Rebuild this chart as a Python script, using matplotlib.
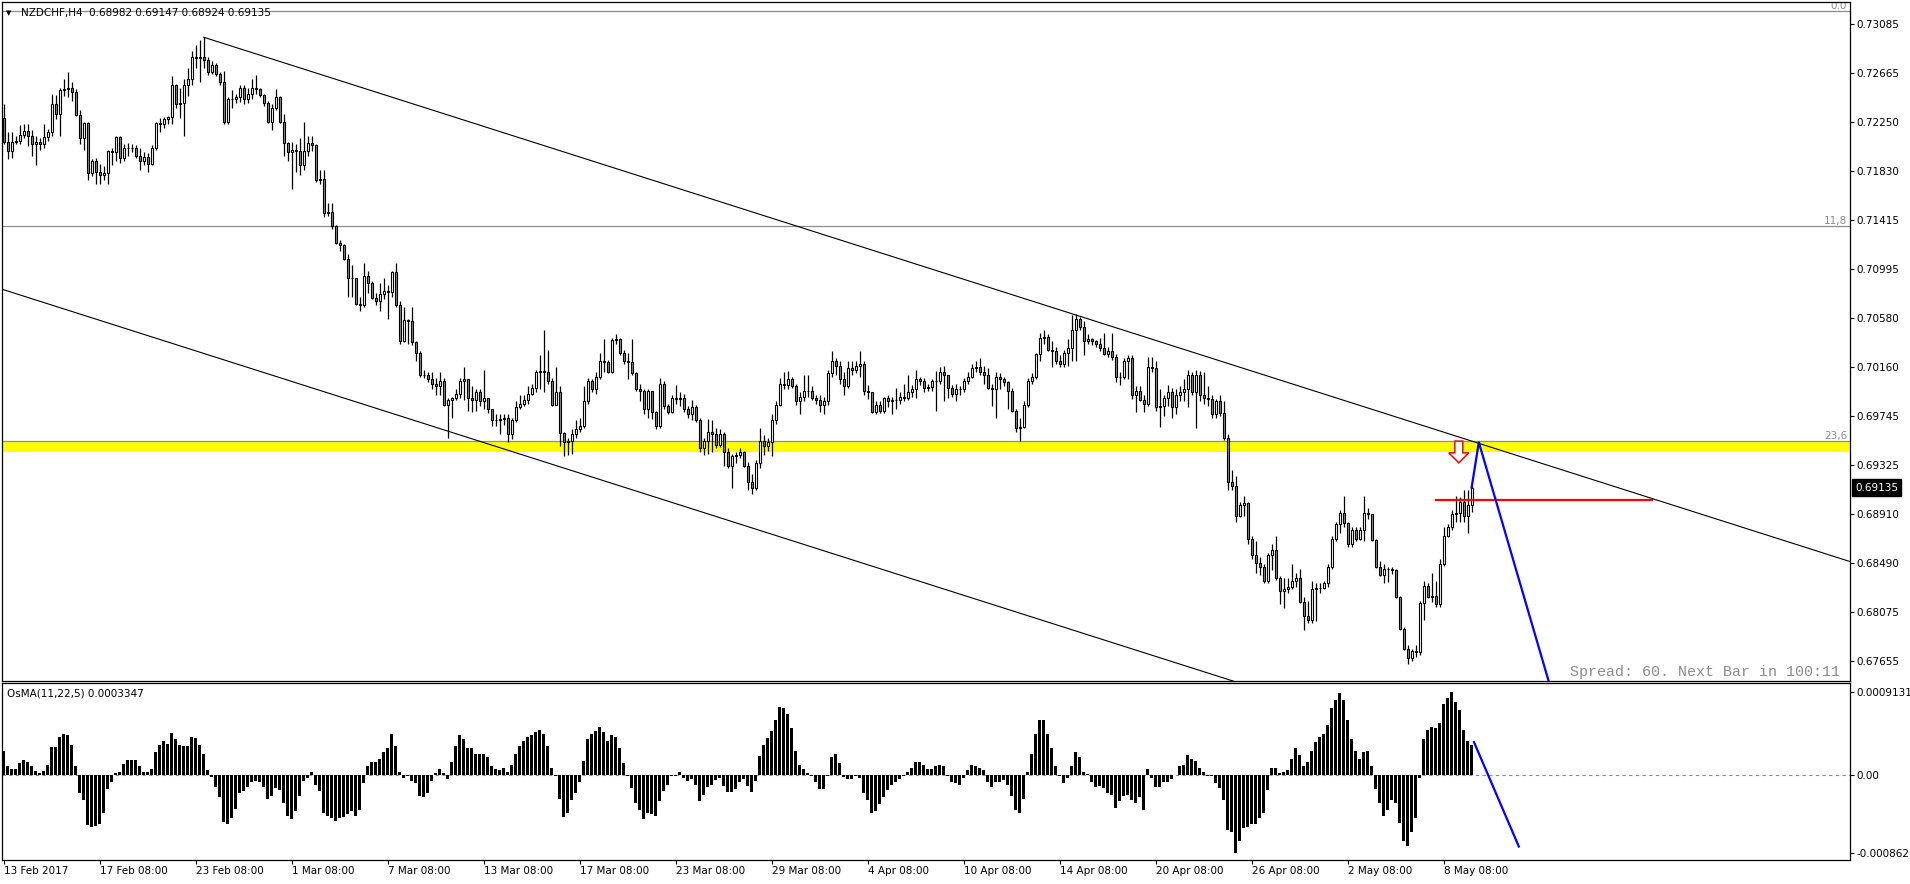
import matplotlib
matplotlib.use("Agg")
import matplotlib.pyplot as plt
from matplotlib.patches import Rectangle, Polygon
import numpy as np

# ---- data (NZDCHF H4) ----
symbol = "NZDCHF,H4"
first_open = 0.7228

close = [
    0.7208, 0.7200, 0.7208, 0.7209, 0.7214, 0.7217, 0.7213, 0.7206, 0.7208, 0.7206, 0.7212, 0.7216,
    0.7240, 0.7232, 0.7252, 0.7253, 0.7254, 0.7250, 0.7231, 0.7211, 0.7224, 0.7181, 0.7192, 0.7182,
    0.7180, 0.7181, 0.7200, 0.7199, 0.7212, 0.7194, 0.7203, 0.7203, 0.7203, 0.7196, 0.7192, 0.7195,
    0.7189, 0.7203, 0.7224, 0.7223, 0.7227, 0.7229, 0.7256, 0.7240, 0.7241, 0.7256, 0.7261, 0.7280,
    0.7279, 0.7280, 0.7278, 0.7267, 0.7273, 0.7266, 0.7259, 0.7225, 0.7244, 0.7244, 0.7246, 0.7254,
    0.7244, 0.7249, 0.7254, 0.7253, 0.7248, 0.7241, 0.7225, 0.7237, 0.7246, 0.7225, 0.7207, 0.7199,
    0.7201, 0.7200, 0.7188, 0.7200, 0.7207, 0.7205, 0.7175, 0.7176, 0.7147, 0.7148, 0.7136, 0.7122,
    0.7120, 0.7108, 0.7092, 0.7092, 0.7070, 0.7069, 0.7094, 0.7088, 0.7075, 0.7072, 0.7078, 0.7081,
    0.7080, 0.7097, 0.7069, 0.7038, 0.7056, 0.7055, 0.7037, 0.7028, 0.7009, 0.7009, 0.7006, 0.7002,
    0.7000, 0.7004, 0.6984, 0.6988, 0.6990, 0.6993, 0.7004, 0.7006, 0.6990, 0.6988, 0.6995, 0.6987,
    0.6990, 0.6980, 0.6971, 0.6971, 0.6972, 0.6973, 0.6959, 0.6971, 0.6982, 0.6985, 0.6988, 0.6993,
    0.6998, 0.7012, 0.7013, 0.7012, 0.7004, 0.6984, 0.6995, 0.6960, 0.6952, 0.6953, 0.6959, 0.6963,
    0.6966, 0.6987, 0.7004, 0.6997, 0.7008, 0.7021, 0.7020, 0.7012, 0.7039, 0.7040, 0.7028, 0.7021,
    0.7020, 0.7011, 0.6997, 0.6996, 0.6980, 0.6996, 0.6978, 0.6966, 0.7002, 0.6983, 0.6978, 0.6990,
    0.6989, 0.6990, 0.6980, 0.6976, 0.6982, 0.6971, 0.6947, 0.6953, 0.6961, 0.6959, 0.6950, 0.6959,
    0.6944, 0.6932, 0.6940, 0.6941, 0.6944, 0.6932, 0.6918, 0.6913, 0.6934, 0.6953, 0.6949, 0.6952,
    0.6971, 0.6984, 0.7002, 0.7001, 0.7006, 0.7000, 0.6987, 0.6991, 0.6996, 0.6996, 0.6990, 0.6988,
    0.6984, 0.6987, 0.7011, 0.7021, 0.7017, 0.7006, 0.7000, 0.7015, 0.7014, 0.7017, 0.7019, 0.6996,
    0.6995, 0.6978, 0.6984, 0.6979, 0.6990, 0.6987, 0.6988, 0.6988, 0.6991, 0.6990, 0.6995, 0.6997,
    0.7006, 0.7004, 0.6998, 0.6999, 0.7004, 0.7004, 0.7012, 0.7009, 0.6998, 0.6993, 0.6997, 0.6997,
    0.7004, 0.7008, 0.7015, 0.7016, 0.7012, 0.7009, 0.6998, 0.6997, 0.7008, 0.7006, 0.7003, 0.6996,
    0.6979, 0.6964, 0.6965, 0.6984, 0.7004, 0.7008, 0.7027, 0.7041, 0.7042, 0.7031, 0.7030, 0.7021,
    0.7019, 0.7028, 0.7032, 0.7048, 0.7057, 0.7050, 0.7038, 0.7040, 0.7038, 0.7036, 0.7032, 0.7027,
    0.7030, 0.7025, 0.7008, 0.7008, 0.7021, 0.7024, 0.6992, 0.6996, 0.6988, 0.6985, 0.7016, 0.7015,
    0.6982, 0.6983, 0.6990, 0.6995, 0.6982, 0.6992, 0.6995, 0.6997, 0.7009, 0.6995, 0.7009, 0.6992,
    0.6990, 0.6989, 0.6976, 0.6987, 0.6977, 0.6956, 0.6918, 0.6915, 0.6889, 0.6899, 0.6900, 0.6870,
    0.6856, 0.6849, 0.6846, 0.6834, 0.6856, 0.6860, 0.6836, 0.6825, 0.6827, 0.6829, 0.6834, 0.6836,
    0.6816, 0.6804, 0.6801, 0.6827, 0.6828, 0.6828, 0.6832, 0.6846, 0.6870, 0.6882, 0.6892, 0.6883,
    0.6865, 0.6877, 0.6870, 0.6877, 0.6892, 0.6891, 0.6869, 0.6846, 0.6839, 0.6844, 0.6844, 0.6843,
    0.6820, 0.6793, 0.6776, 0.6768, 0.6774, 0.6773, 0.6815, 0.6830, 0.6820, 0.6821, 0.6814, 0.6848,
    0.6872, 0.6880, 0.6891, 0.6892, 0.6901, 0.6889, 0.68982, 0.69135,
]

high = [
    0.7240, 0.7216, 0.7216, 0.7213, 0.7222, 0.7223, 0.7223, 0.7218, 0.7213, 0.7211, 0.7223, 0.7219,
    0.7249, 0.7248, 0.7254, 0.7261, 0.7267, 0.7259, 0.7253, 0.7235, 0.7225, 0.7225, 0.7193, 0.7194,
    0.7189, 0.7187, 0.7201, 0.7203, 0.7213, 0.7213, 0.7206, 0.7207, 0.7206, 0.7205, 0.7203, 0.7199,
    0.7198, 0.7205, 0.7225, 0.7228, 0.7229, 0.7230, 0.7264, 0.7257, 0.7254, 0.7261, 0.7271, 0.7285,
    0.7290, 0.7295, 0.7297, 0.7280, 0.7277, 0.7275, 0.7267, 0.7268, 0.7246, 0.7252, 0.7249, 0.7256,
    0.7256, 0.7254, 0.7261, 0.7265, 0.7254, 0.7249, 0.7243, 0.7240, 0.7253, 0.7247, 0.7232, 0.7208,
    0.7208, 0.7206, 0.7211, 0.7225, 0.7213, 0.7213, 0.7206, 0.7184, 0.7184, 0.7156, 0.7156, 0.7137,
    0.7124, 0.7121, 0.7112, 0.7103, 0.7081, 0.7076, 0.7105, 0.7098, 0.7089, 0.7079, 0.7088, 0.7092,
    0.7086, 0.7098, 0.7105, 0.7072, 0.7067, 0.7057, 0.7067, 0.7038, 0.7030, 0.7014, 0.7012, 0.7012,
    0.7007, 0.7012, 0.7007, 0.6990, 0.6991, 0.6997, 0.7007, 0.7016, 0.7001, 0.7000, 0.6997, 0.6997,
    0.7014, 0.6990, 0.6980, 0.6976, 0.6976, 0.6976, 0.6976, 0.6973, 0.6987, 0.6992, 0.6992, 0.7000,
    0.7002, 0.7014, 0.7026, 0.7048, 0.7031, 0.7007, 0.7016, 0.7000, 0.6961, 0.6956, 0.6963, 0.6971,
    0.6973, 0.7000, 0.7007, 0.7006, 0.7012, 0.7028, 0.7040, 0.7022, 0.7041, 0.7044, 0.7041, 0.7031,
    0.7028, 0.7040, 0.7012, 0.7002, 0.6997, 0.6997, 0.6992, 0.6979, 0.7007, 0.7004, 0.6985, 0.6992,
    0.7001, 0.6995, 0.6993, 0.6983, 0.6988, 0.6984, 0.6973, 0.6956, 0.6972, 0.6971, 0.6964, 0.6963,
    0.6961, 0.6947, 0.6942, 0.6944, 0.6947, 0.6945, 0.6935, 0.6925, 0.6937, 0.6964, 0.6958, 0.6956,
    0.6976, 0.6987, 0.7007, 0.7012, 0.7013, 0.7008, 0.7002, 0.6995, 0.7009, 0.7009, 0.7000, 0.6992,
    0.6992, 0.6991, 0.7014, 0.7030, 0.7024, 0.7021, 0.7012, 0.7021, 0.7021, 0.7021, 0.7030, 0.7021,
    0.7001, 0.6995, 0.6987, 0.6987, 0.6991, 0.6992, 0.6991, 0.6998, 0.6995, 0.7002, 0.7009, 0.7001,
    0.7014, 0.7008, 0.7007, 0.7002, 0.7006, 0.7013, 0.7016, 0.7017, 0.7009, 0.7001, 0.7002, 0.7000,
    0.7007, 0.7012, 0.7019, 0.7021, 0.7024, 0.7017, 0.7015, 0.7002, 0.7012, 0.7011, 0.7008, 0.7004,
    0.6998, 0.6980, 0.6973, 0.6987, 0.7007, 0.7011, 0.7028, 0.7045, 0.7048, 0.7044, 0.7038, 0.7033,
    0.7026, 0.7031, 0.7040, 0.7060, 0.7061, 0.7059, 0.7055, 0.7044, 0.7041, 0.7039, 0.7041, 0.7045,
    0.7033, 0.7045, 0.7027, 0.7012, 0.7024, 0.7026, 0.7026, 0.7000, 0.7000, 0.6992, 0.7025, 0.7025,
    0.7021, 0.6997, 0.6992, 0.7001, 0.6998, 0.6997, 0.7000, 0.7006, 0.7014, 0.7012, 0.7014, 0.7013,
    0.7012, 0.7000, 0.6992, 0.6989, 0.6992, 0.6987, 0.6959, 0.6928, 0.6923, 0.6901, 0.6906, 0.6901,
    0.6872, 0.6868, 0.6854, 0.6848, 0.6858, 0.6865, 0.6872, 0.6838, 0.6836, 0.6836, 0.6848, 0.6841,
    0.6844, 0.6820, 0.6817, 0.6834, 0.6832, 0.6832, 0.6834, 0.6848, 0.6872, 0.6884, 0.6894, 0.6906,
    0.6884, 0.6880, 0.6880, 0.6880, 0.6906, 0.6896, 0.6891, 0.6870, 0.6851, 0.6848, 0.6846, 0.6846,
    0.6844, 0.6821, 0.6795, 0.6779, 0.6776, 0.6779, 0.6817, 0.6834, 0.6832, 0.6841, 0.6834, 0.6853,
    0.6880, 0.6882, 0.6894, 0.6906, 0.6905, 0.6911, 0.6911, 0.69147,
]

low = [
    0.7206, 0.7193, 0.7194, 0.7206, 0.7206, 0.7211, 0.7204, 0.7196, 0.7188, 0.7201, 0.7203, 0.7209,
    0.7213, 0.7227, 0.7213, 0.7247, 0.7246, 0.7243, 0.7230, 0.7206, 0.7201, 0.7175, 0.7179, 0.7172,
    0.7172, 0.7175, 0.7172, 0.7188, 0.7192, 0.7190, 0.7192, 0.7196, 0.7199, 0.7194, 0.7184, 0.7188,
    0.7182, 0.7188, 0.7201, 0.7216, 0.7220, 0.7223, 0.7223, 0.7237, 0.7228, 0.7213, 0.7247, 0.7256,
    0.7271, 0.7259, 0.7271, 0.7265, 0.7266, 0.7264, 0.7256, 0.7223, 0.7223, 0.7237, 0.7241, 0.7242,
    0.7240, 0.7241, 0.7244, 0.7249, 0.7246, 0.7238, 0.7224, 0.7218, 0.7235, 0.7224, 0.7196, 0.7192,
    0.7168, 0.7182, 0.7180, 0.7184, 0.7196, 0.7200, 0.7174, 0.7172, 0.7144, 0.7145, 0.7134, 0.7121,
    0.7115, 0.7107, 0.7076, 0.7076, 0.7069, 0.7064, 0.7067, 0.7079, 0.7074, 0.7069, 0.7064, 0.7074,
    0.7057, 0.7076, 0.7067, 0.7036, 0.7037, 0.7036, 0.7035, 0.7021, 0.7008, 0.7007, 0.7003, 0.6997,
    0.6992, 0.6992, 0.6983, 0.6956, 0.6973, 0.6988, 0.6990, 0.6988, 0.6979, 0.6978, 0.6979, 0.6983,
    0.6980, 0.6977, 0.6966, 0.6966, 0.6959, 0.6967, 0.6952, 0.6955, 0.6969, 0.6980, 0.6983, 0.6985,
    0.6992, 0.6995, 0.6997, 0.6995, 0.7002, 0.6983, 0.6984, 0.6949, 0.6940, 0.6941, 0.6942, 0.6956,
    0.6961, 0.6964, 0.6985, 0.6995, 0.6993, 0.7006, 0.7012, 0.7011, 0.7011, 0.7036, 0.7026, 0.7019,
    0.7006, 0.7009, 0.6996, 0.6987, 0.6976, 0.6973, 0.6972, 0.6963, 0.6964, 0.6980, 0.6976, 0.6977,
    0.6985, 0.6983, 0.6978, 0.6973, 0.6971, 0.6969, 0.6944, 0.6941, 0.6942, 0.6944, 0.6947, 0.6948,
    0.6932, 0.6930, 0.6913, 0.6934, 0.6939, 0.6931, 0.6911, 0.6908, 0.6911, 0.6930, 0.6941, 0.6945,
    0.6940, 0.6968, 0.6983, 0.6997, 0.6997, 0.6998, 0.6984, 0.6976, 0.6987, 0.6991, 0.6988, 0.6985,
    0.6978, 0.6976, 0.6984, 0.7008, 0.7009, 0.7002, 0.6992, 0.6998, 0.7009, 0.7011, 0.7008, 0.6992,
    0.6989, 0.6977, 0.6976, 0.6977, 0.6977, 0.6982, 0.6976, 0.6980, 0.6985, 0.6987, 0.6988, 0.6991,
    0.6990, 0.7001, 0.6995, 0.6996, 0.6996, 0.6979, 0.7002, 0.6987, 0.6990, 0.6991, 0.6987, 0.6992,
    0.6995, 0.7002, 0.7007, 0.7012, 0.7009, 0.7002, 0.6997, 0.6983, 0.6973, 0.6997, 0.7000, 0.6980,
    0.6978, 0.6961, 0.6953, 0.6964, 0.6982, 0.7002, 0.7006, 0.7021, 0.7036, 0.7030, 0.7016, 0.7019,
    0.7016, 0.7016, 0.7017, 0.7021, 0.7021, 0.7048, 0.7026, 0.7036, 0.7035, 0.7033, 0.7030, 0.7026,
    0.7025, 0.7022, 0.7003, 0.7001, 0.7006, 0.7006, 0.6989, 0.6978, 0.6987, 0.6978, 0.6983, 0.7012,
    0.6979, 0.6965, 0.6974, 0.6983, 0.6973, 0.6976, 0.6987, 0.6987, 0.6982, 0.6992, 0.6964, 0.6987,
    0.6985, 0.6983, 0.6973, 0.6973, 0.6974, 0.6954, 0.6911, 0.6911, 0.6884, 0.6888, 0.6889, 0.6865,
    0.6853, 0.6841, 0.6839, 0.6832, 0.6832, 0.6843, 0.6835, 0.6814, 0.6811, 0.6824, 0.6827, 0.6829,
    0.6815, 0.6792, 0.6798, 0.6798, 0.6800, 0.6824, 0.6827, 0.6829, 0.6844, 0.6868, 0.6875, 0.6880,
    0.6863, 0.6863, 0.6868, 0.6869, 0.6868, 0.6887, 0.6868, 0.6845, 0.6838, 0.6832, 0.6833, 0.6840,
    0.6819, 0.6792, 0.6775, 0.6763, 0.6766, 0.6769, 0.6771, 0.6801, 0.6819, 0.6816, 0.6812, 0.6812,
    0.6847, 0.6871, 0.6877, 0.6884, 0.6884, 0.6884, 0.6875, 0.68924,
]

# OsMA(11,22,5) histogram, in units of 1e-4
osma_e4 = [
    2.67, 0.93, 0.62, 0.62, 1.31, 1.62, 1.43, 0.93, 0.44, 0.19, 0.44, 1.12,
    3.11, 3.11, 4.23, 4.54, 4.35, 3.30, 1.00, -1.99, -2.80, -5.54, -5.72, -5.60,
    -5.41, -4.17, -1.56, -0.75, 0.19, 0.37, 1.24, 1.62, 1.62, 1.62, 0.93, 0.31,
    0.31, 0.68, 2.49, 3.30, 3.73, 3.42, 4.67, 3.92, 3.30, 3.17, 3.17, 4.23,
    4.11, 3.30, 2.36, 0.50, -0.25, -1.37, -2.43, -5.22, -5.41, -4.79, -3.73, -1.99,
    -1.80, -1.37, -0.75, -0.62, -0.75, -1.37, -2.61, -2.30, -1.49, -1.68, -3.11, -4.48,
    -4.91, -3.98, -2.30, -0.62, -0.31, 0.31, -1.06, -1.80, -4.17, -4.48, -4.79, -5.10,
    -4.79, -4.60, -4.29, -3.98, -4.48, -3.86, -0.93, 0.93, 1.43, 1.43, 1.74, 2.49,
    2.99, 4.54, 3.17, 0.31, -0.31, -0.12, -0.62, -0.93, -2.30, -2.43, -1.99, -0.62,
    0.19, 0.68, 0.19, -0.44, 1.43, 3.17, 4.35, 3.92, 2.99, 2.99, 2.36, 2.36,
    2.36, 1.93, 1.00, 0.62, 0.50, 0.81, 0.37, 1.12, 2.36, 3.17, 3.79, 4.23,
    4.35, 4.73, 4.98, 4.54, 3.17, 0.81, -0.12, -2.61, -4.60, -4.17, -2.80, -1.99,
    -0.75, 1.56, 3.92, 4.54, 4.85, 5.29, 4.73, 3.79, 4.42, 4.23, 2.99, 1.31,
    -0.12, -1.49, -3.05, -3.86, -4.91, -4.17, -4.35, -4.48, -2.92, -1.80, -1.06, -0.12,
    -0.12, 0.37, -0.31, -0.62, -0.44, -1.06, -2.92, -2.18, -1.37, -1.06, -0.56, -0.31,
    -1.24, -1.87, -1.87, -1.56, -0.75, -0.44, -1.24, -1.87, -0.62, 2.05, 3.30, 4.04,
    4.85, 6.10, 7.46, 7.34, 6.72, 5.16, 2.67, 1.12, 0.68, 0.19, -0.12, -0.75,
    -1.56, -1.56, -0.12, 1.93, 2.36, 1.31, -0.25, -0.44, -0.44, -0.12, -0.31, -1.99,
    -2.80, -4.17, -3.98, -3.23, -2.49, -1.68, -1.06, -0.75, -0.44, -0.12, 0.37, 0.81,
    1.43, 1.43, 1.12, 0.68, 0.68, 0.93, 1.12, 0.93, -0.12, -0.75, -0.93, -1.06,
    -0.31, 0.50, 1.12, 1.00, 0.81, 0.50, -0.75, -1.37, -0.75, -0.75, -0.56, -1.06,
    -2.30, -3.86, -4.17, -2.61, 0.31, 2.36, 4.54, 6.10, 6.10, 4.54, 2.99, 1.00,
    -0.12, -0.93, -0.31, 0.93, 2.49, 1.93, 0.37, 0.05, -0.75, -1.37, -1.24, -1.49,
    -1.99, -2.18, -3.67, -2.92, -2.30, -2.18, -2.80, -3.11, -2.43, -3.86, 0.68, -0.31,
    -1.37, -1.37, -0.75, -0.75, -0.44, 0.03, 0.93, 1.12, 2.18, 1.74, 1.56, 0.81,
    0.31, -0.12, -0.12, -0.93, -1.49, -2.80, -6.03, -6.34, -8.62, -7.28, -5.91, -5.72,
    -5.41, -5.41, -4.79, -4.17, -1.68, 0.81, 0.81, 0.19, 0.31, 0.50, 1.74, 2.99,
    2.18, 0.93, 1.43, 2.67, 3.61, 4.23, 4.54, 5.47, 7.34, 8.27, 9.02, 8.27,
    6.10, 3.92, 2.67, 1.74, 2.55, 2.67, 1.00, -1.56, -3.11, -4.48, -3.86, -2.80,
    -3.05, -5.29, -7.28, -7.90, -6.34, -4.79, -0.31, 3.92, 4.98, 5.29, 5.16, 5.78,
    7.78, 8.46, 9.131, 8.09, 7.15, 4.98, 3.73, 3.347,
]

price_ticks = [0.73085, 0.72665, 0.72250, 0.71830, 0.71415, 0.70995, 0.70580,
               0.70160, 0.69745, 0.69325, 0.68910, 0.68490, 0.68075, 0.67655]
osma_ticks = [0.0009131, 0.0, -0.000862]
osma_tick_labels = ["0.0009131", "0.00", "-0.000862"]
date_labels = ["13 Feb 2017", "17 Feb 08:00", "23 Feb 08:00", "1 Mar 08:00", "7 Mar 08:00",
               "13 Mar 08:00", "17 Mar 08:00", "23 Mar 08:00", "29 Mar 08:00", "4 Apr 08:00",
               "10 Apr 08:00", "14 Apr 08:00", "20 Apr 08:00", "26 Apr 08:00", "2 May 08:00",
               "8 May 08:00"]
bars_per_label = 24

# drawn objects (fibo, zone, channel, projection)
fib_high = 0.7319
fib_range = 0.1552
fib_levels = [0.0, 11.8, 23.6]
zone_low, zone_high = 0.6944, 0.6953
upper_trend = ([50, 462], [0.7297, 0.6850])
lower_trend = ([-1, 462], [0.7083, 0.6581])
red_level = 0.6903
red_from, red_to = 358, 412
proj_x = [367, 368.8, 390]
proj_y = [0.69135, 0.6952, 0.6705]
osma_proj_x = [367.6, 378.8]
osma_proj_y = [0.000361, -0.000790]
arrow_x = 363.8
arrow_top, arrow_neck, arrow_tip = 0.6953, 0.6943, 0.69345

# ---- figure ----
W, H = 1910, 884
fig = plt.figure(figsize=(W / 100, H / 100), dpi=100)
fig.patch.set_facecolor("white")
ax = fig.add_axes([2 / W, (H - 681) / H, 1848 / W, 679 / H])
ax2 = fig.add_axes([2 / W, (H - 860) / H, 1848 / W, 177 / H])

n = len(close)
idx = np.arange(n)
c = np.array(close)
o = np.r_[first_open, c[:-1]]
hi = np.array(high)
lo = np.array(low)

xlim = (-0.425, 461.6)
ax.set_xlim(*xlim)
ax.set_ylim(0.67487, 0.73270)
ax2.set_xlim(*xlim)
ax2.set_ylim(-0.000939, 0.001014)

# yellow zone and fibo levels
ax.axhspan(zone_low, zone_high, color="#ffff00", lw=0, zorder=0.5)
for lev in fib_levels:
    p = fib_high - fib_range * lev / 100
    ax.axhline(p, color="#8c8c8c", lw=0.9, zorder=1)
    txt = ("%.1f" % lev).replace(".", ",") if lev else "0.0"
    ax.text(0.9985, p, txt, transform=ax.get_yaxis_transform(), ha="right", va="bottom",
            fontsize=7.5, color="#8c8c8c", clip_on=True, zorder=1)

# channel
ax.plot(*upper_trend, color="black", lw=0.8, zorder=2)
ax.plot(*lower_trend, color="black", lw=0.8, zorder=2)

# candles
ax.vlines(idx, lo, hi, color="black", lw=0.9, zorder=3)
for i in range(n):
    bottom = min(o[i], c[i])
    face = "white" if c[i] >= o[i] else "#8a8a8a"
    ax.add_patch(Rectangle((i - 0.25, bottom), 0.5, abs(c[i] - o[i]),
                           facecolor=face, edgecolor="black", lw=0.8, zorder=4))

# red level, arrow, blue projection
ax.plot([red_from, red_to], [red_level, red_level], color="red", lw=1.6, zorder=5)
arrow = Polygon([(arrow_x - 1, arrow_top), (arrow_x + 1, arrow_top), (arrow_x + 1, arrow_neck),
                 (arrow_x + 2.5, arrow_neck), (arrow_x, arrow_tip), (arrow_x - 2.5, arrow_neck),
                 (arrow_x - 1, arrow_neck)], closed=True, facecolor="white", edgecolor="red",
                lw=1.1, zorder=6)
ax.add_patch(arrow)
ax.plot(proj_x, proj_y, color="blue", lw=1.6, zorder=6)

# price axis
ax.set_xticks([])
ax.yaxis.tick_right()
ax.set_yticks(price_ticks)
ax.set_yticklabels(["%.5f" % p for p in price_ticks])
ax.tick_params(axis="y", direction="out", length=3, width=0.8, labelsize=7.5, pad=1.5)
ax.annotate("%.5f" % c[-1], xy=(1, c[-1]), xycoords=("axes fraction", "data"),
            xytext=(3.8, 0), textcoords="offset points", ha="left", va="center",
            fontsize=7.5, color="white", annotation_clip=False,
            bbox=dict(boxstyle="square,pad=0.3", fc="black", ec="black"))

# osma panel
ax2.axhline(0, color="#8c8c8c", lw=0.8, ls=(0, (3, 3)), zorder=1)
ax2.bar(idx, np.array(osma_e4) * 1e-4, width=0.75, color="black", lw=0,
        antialiased=False, zorder=3)
ax2.plot(osma_proj_x, osma_proj_y, color="blue", lw=1.6, zorder=4)
ax2.yaxis.tick_right()
ax2.set_yticks(osma_ticks)
ax2.set_yticklabels(osma_tick_labels)
ax2.tick_params(axis="y", direction="out", length=3, width=0.8, labelsize=7.5, pad=1.5)
date_pos = [k * bars_per_label for k in range(len(date_labels))]
ax2.set_xticks(date_pos)
ax2.set_xticklabels(date_labels, ha="left")
ax2.tick_params(axis="x", direction="out", length=3, width=0.8, labelsize=7.5, pad=1.5)

for a in (ax, ax2):
    for s in a.spines.values():
        s.set_linewidth(0.9)
        s.set_color("black")

# header texts
fig.text(9 / W, 1 - 13 / H, "\u25bc", fontsize=5, ha="center", va="center")
fig.text(21 / W, 1 - 13 / H, "%s  %.5f %.5f %.5f %.5f" % (symbol, o[-1], hi[-1], lo[-1], c[-1]),
         fontsize=7.5, ha="left", va="center")
fig.text(7 / W, 1 - 694 / H, "OsMA(11,22,5) %.7f" % (osma_e4[-1] * 1e-4),
         fontsize=7.5, ha="left", va="center")
fig.text(1840 / W, 1 - 676 / H, "Spread: 60. Next Bar in 100:11", family="Liberation Mono",
         fontsize=10.8, color="#8c8c8c", ha="right", va="baseline")

fig.savefig("out.png", dpi=100, facecolor="white")
